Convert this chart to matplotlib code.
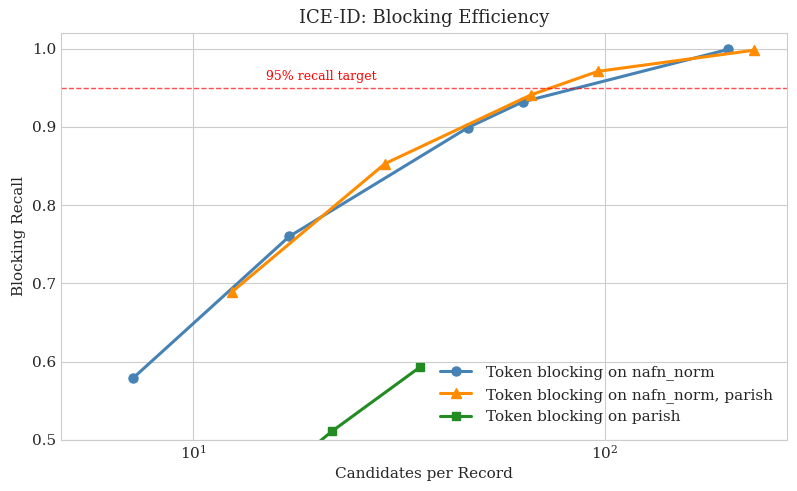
import matplotlib
matplotlib.use("Agg")
import matplotlib.pyplot as plt
import seaborn as sns

sns.set_style("whitegrid")
plt.rcParams['font.family'] = ['DejaVu Serif']

nafn_x = [7.14, 17.1, 46.4, 63.1, 199]
nafn_y = [0.579, 0.760, 0.899, 0.932, 0.999]
both_x = [12.4, 29.2, 66.1, 96.1, 230]
both_y = [0.689, 0.853, 0.941, 0.971, 0.998]
parish_x = [5.74, 21.7, 35.5]
parish_y = [0.26, 0.511, 0.593]

fig = plt.figure(figsize=(7.97, 4.91), dpi=100)
ax = fig.add_axes([0.0765, 0.1039, 0.9110, 0.8289])

ax.plot(nafn_x, nafn_y, marker='o', color='steelblue', lw=2.2, ms=6.5,
        label='Token blocking on nafn_norm')
ax.plot(both_x, both_y, marker='^', color='darkorange', lw=2.2, ms=7,
        label='Token blocking on nafn_norm, parish')
ax.plot(parish_x, parish_y, marker='s', color='forestgreen', lw=2.2, ms=6,
        label='Token blocking on parish')
ax.axhline(0.95, color='red', ls='--', lw=1, alpha=0.7)
ax.text(15, 0.956, '95% recall target', color='red', fontsize=9, va='bottom')

ax.set_xscale('log')
ax.set_ylim(0.5, 1.02)
ax.set_title('ICE-ID: Blocking Efficiency', fontsize=13, pad=7.5)
ax.set_xlabel('Candidates per Record', fontsize=11)
ax.set_ylabel('Blocking Recall', fontsize=11)
ax.tick_params(labelsize=11, length=0, pad=3.5)
ax.tick_params(axis='x', pad=2.5)
ax.tick_params(axis='x', which='minor', length=0)
ax.legend(loc='lower right', fontsize=11, frameon=False,
          handletextpad=1.0, bbox_to_anchor=(1.0, 0.005))

fig.savefig('out.png', dpi=100)
